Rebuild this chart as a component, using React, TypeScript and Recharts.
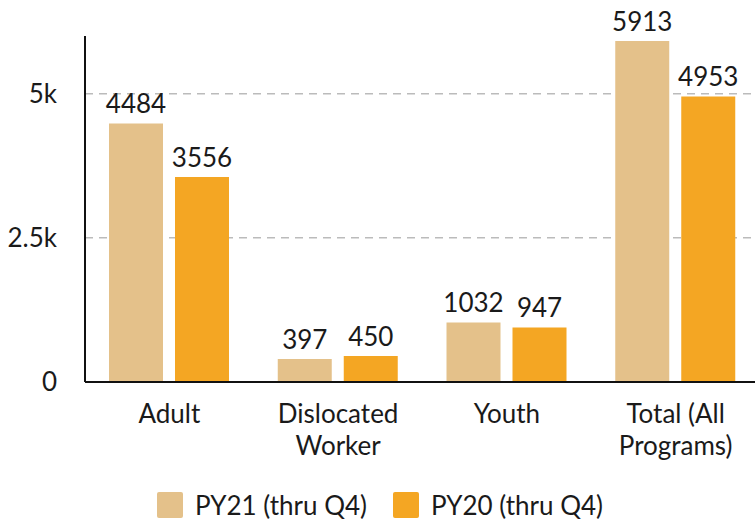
import { Bar, BarChart, CartesianGrid, LabelList, Legend, XAxis, YAxis } from "recharts";

const categories = ["Adult", "Dislocated Worker", "Youth", "Total (All Programs)"];
const py21 = [4484, 397, 1032, 5913];
const py20 = [3556, 450, 947, 4953];
const yTicks = [0, 2500, 5000];

const seriesNames = ["PY21 (thru Q4)", "PY20 (thru Q4)"];
const colors = ["#e4c18a", "#f4a623"];

const data = categories.map((name, i) => ({ name, py21: py21[i], py20: py20[i] }));

const font = "Lato, 'Noto Sans', sans-serif";
const textColor = "#1a1a1a";

// greedy word wrap, about 11 characters per line
function wrap(label: string) {
  const lines: string[] = [];
  let cur = "";
  for (const w of label.split(" ")) {
    const next = cur ? cur + " " + w : w;
    if (next.length > 11 && cur) {
      lines.push(cur);
      cur = w;
    } else cur = next;
  }
  if (cur) lines.push(cur);
  return lines;
}

function CategoryTick(props: any) {
  const { x, y, payload } = props;
  const lines = wrap(payload.value);
  return (
    <text x={x} y={y + 41} textAnchor="middle" fontSize={26} fontFamily={font} fill={textColor}>
      {lines.map((line, i) => (
        <tspan key={i} x={x} dy={i === 0 ? 0 : 32}>
          {line}
        </tspan>
      ))}
    </text>
  );
}

function LegendBox() {
  return (
    <div style={{ display: "flex", justifyContent: "center", gap: 26, fontFamily: font, fontSize: 26, color: textColor }}>
      {seriesNames.map((name, i) => (
        <div key={name} style={{ display: "flex", alignItems: "center" }}>
          <span style={{ width: 26, height: 26, background: colors[i], borderRadius: 2, marginRight: 12, display: "inline-block" }} />
          <span>{name}</span>
        </div>
      ))}
    </div>
  );
}

const fmt = (v: number) => (v === 0 ? "0" : `${v / 1000}k`);
const labelStyle = { fontSize: 26, fontFamily: font, fill: textColor };

export default function App() {
  return (
    <div style={{ position: "absolute", left: 0, top: 0, background: "#fff" }}>
      <BarChart width={755} height={525} data={data} margin={{ top: 36, right: -5, bottom: 0, left: 0 }} barGap={12} barSize={54}>
        <CartesianGrid vertical={false} horizontalValues={[2500, 5000]} stroke="#bbbbbb" strokeDasharray="8 6" strokeWidth={1.5} />
        <XAxis
          dataKey="name"
          axisLine={{ stroke: "#111", strokeWidth: 2 }}
          tickLine={false}
          tickSize={0}
          tickMargin={0}
          height={111}
          interval={0}
          tick={<CategoryTick />}
        />
        <YAxis
          domain={[0, 6000]}
          ticks={yTicks}
          tickFormatter={fmt}
          width={85}
          axisLine={{ stroke: "#111", strokeWidth: 2 }}
          tickLine={false}
          tickSize={0}
          tickMargin={28}
          tick={{ fontSize: 26, fontFamily: font, fill: textColor }}
        />
        <Legend verticalAlign="bottom" content={<LegendBox />} wrapperStyle={{ bottom: 4 }} />
        <Bar dataKey="py21" name={seriesNames[0]} fill={colors[0]} isAnimationActive={false}>
          <LabelList dataKey="py21" position="top" offset={10} style={labelStyle} />
        </Bar>
        <Bar dataKey="py20" name={seriesNames[1]} fill={colors[1]} isAnimationActive={false}>
          <LabelList dataKey="py20" position="top" offset={10} style={labelStyle} />
        </Bar>
      </BarChart>
    </div>
  );
}
